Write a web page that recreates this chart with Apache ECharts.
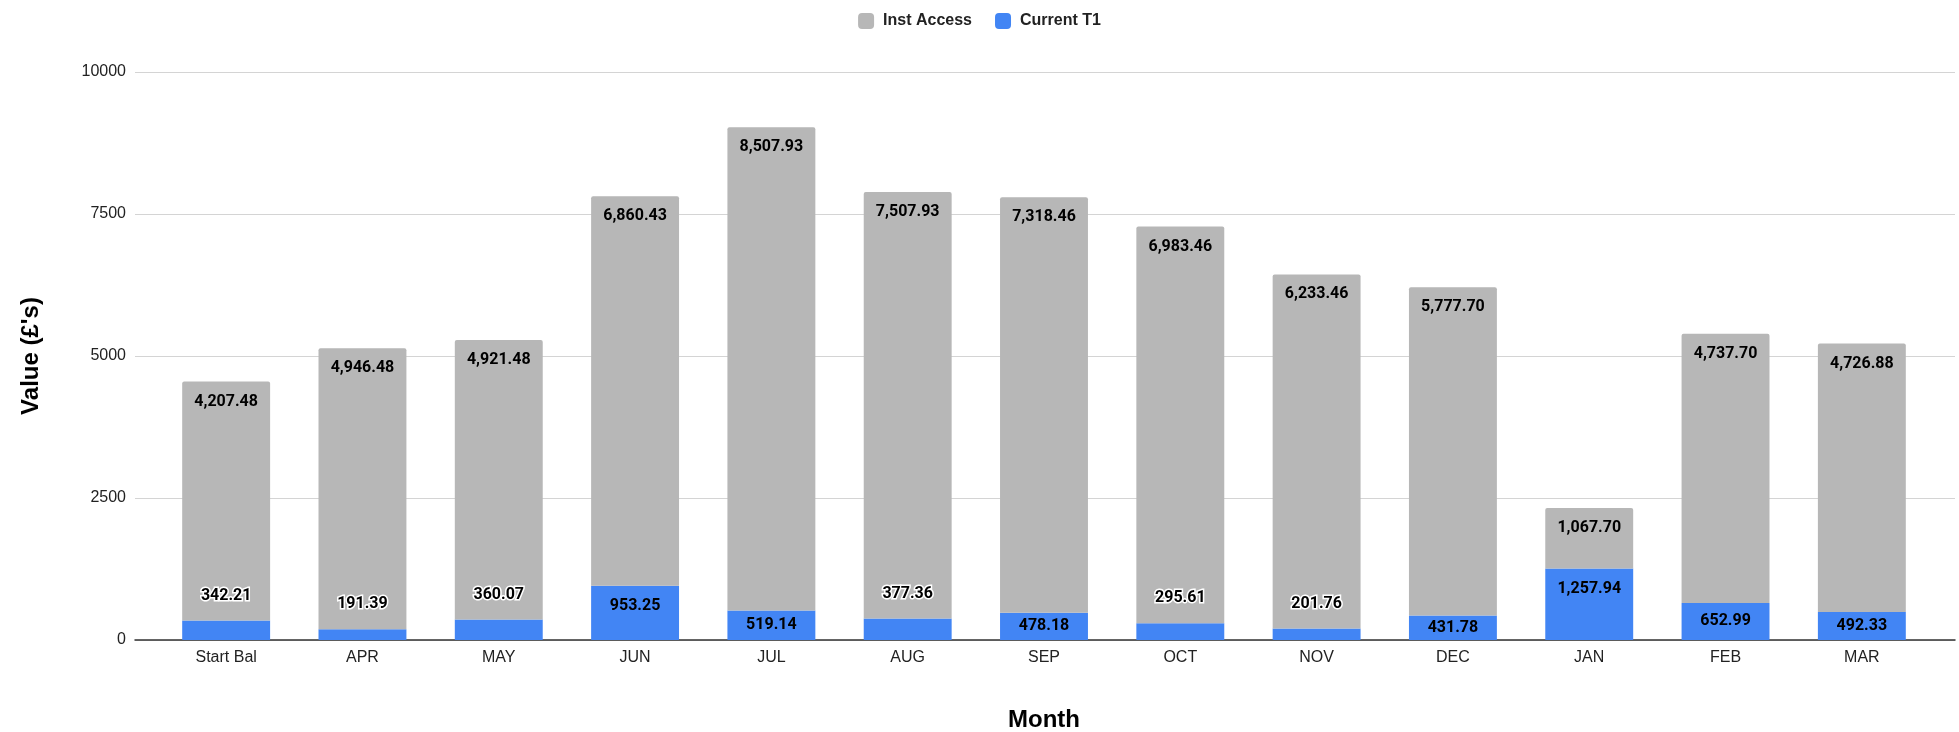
<!DOCTYPE html>
<html>
<head>
<meta charset="utf-8">
<script src="https://cdn.jsdelivr.net/npm/echarts@6/dist/echarts.min.js"></script>
<style>
  html, body { margin: 0; padding: 0; background: #fff; }
  #chart { width: 1959px; height: 732px; }
</style>
</head>
<body>
<div id="chart"></div>
<script>
// data
var months = ['Start Bal', 'APR', 'MAY', 'JUN', 'JUL', 'AUG', 'SEP', 'OCT', 'NOV', 'DEC', 'JAN', 'FEB', 'MAR'];
var currentT1 = [342.21, 191.39, 360.07, 953.25, 519.14, 377.36, 478.18, 295.61, 201.76, 431.78, 1257.94, 652.99, 492.33];
var instAccess = [4207.48, 4946.48, 4921.48, 6860.43, 8507.93, 7507.93, 7318.46, 6983.46, 6233.46, 5777.70, 1067.70, 4737.70, 4726.88];
var yTicks = [0, 2500, 5000, 7500, 10000];

var chart = echarts.init(document.getElementById('chart'));

function fmt(v) {
    return v.toLocaleString('en-US', { minimumFractionDigits: 2, maximumFractionDigits: 2 });
}

var labelFont = { fontFamily: 'Roboto', fontWeight: 'bold', fontSize: 16, color: '#000' };

// blue label placement: too short -> above with white halo, short -> centred, tall -> near top
function blueLabel(v) {
    if (v < 400) return { position: 'top', distance: 17, textBorderColor: '#fff', textBorderWidth: 3 };
    if (v < 800) return { position: 'inside' };
    return { position: 'insideTop', distance: 12 };
}
var blueData = currentT1.map(function (v) {
    return { value: v, label: blueLabel(v) };
});

var option = {
    backgroundColor: '#fff',
    animation: false,
    legend: {
        top: 8,
        left: 'center',
        itemWidth: 16,
        itemHeight: 16,
        itemGap: 23,
        icon: 'roundRect',
        data: ['Inst Access', 'Current T1'],
        textStyle: { fontFamily: 'Liberation Sans', fontWeight: 'bold', fontSize: 16, color: '#222', padding: [0, 0, 0, 4] }
    },
    grid: [
        { left: 135, right: 4, top: 72, bottom: 92, outerBoundsMode: 'none' },
        { left: 158, right: 29, top: 72, bottom: 92, outerBoundsMode: 'none' }
    ],
    xAxis: [
        {
            gridIndex: 0, type: 'value', min: 0, max: 1,
            axisLine: { show: true, lineStyle: { color: '#333', width: 1.5 } },
            axisTick: { show: false }, axisLabel: { show: false }, splitLine: { show: false }
        },
        {
            gridIndex: 1, type: 'category', data: months,
            axisLine: { show: false }, axisTick: { show: false },
            axisLabel: { margin: 10, fontFamily: 'Liberation Sans', fontSize: 16, color: '#222' },
            name: 'Month', nameLocation: 'middle', nameGap: 68,
            nameTextStyle: { fontFamily: 'Liberation Sans', fontWeight: 'bold', fontSize: 24, color: '#000' }
        }
    ],
    yAxis: [
        {
            gridIndex: 0, type: 'value', min: yTicks[0], max: yTicks[yTicks.length - 1], interval: 2500,
            axisLine: { show: false }, axisTick: { show: false },
            axisLabel: { margin: 9, fontFamily: 'Liberation Sans', fontSize: 16, color: '#222', formatter: function (v) { return String(v); } },
            splitLine: { lineStyle: { color: '#d4d4d4', width: 1 } },
            name: "Value (£'s)", nameLocation: 'middle', nameGap: 92,
            nameTextStyle: { fontFamily: 'Liberation Sans', fontWeight: 'bold', fontSize: 24, color: '#000' }
        },
        {
            gridIndex: 1, type: 'value', min: 0, max: 10000, interval: 2500, show: false
        }
    ],
    series: [
        {
            name: 'Current T1',
            type: 'bar',
            stack: 'total',
            xAxisIndex: 1, yAxisIndex: 1,
            barWidth: '64.5%',
            itemStyle: { color: '#4285f4' },
            label: Object.assign({ show: true, formatter: function (p) { return fmt(p.value); } }, labelFont),
            data: blueData
        },
        {
            name: 'Inst Access',
            type: 'bar',
            stack: 'total',
            xAxisIndex: 1, yAxisIndex: 1,
            barWidth: '64.5%',
            itemStyle: { color: '#b7b7b7', borderRadius: [2, 2, 0, 0] },
            label: Object.assign({ show: true, position: 'insideTop', distance: 12, formatter: function (p) { return fmt(p.value); } }, labelFont),
            data: instAccess
        }
    ]
};

chart.setOption(option);
</script>
</body>
</html>
